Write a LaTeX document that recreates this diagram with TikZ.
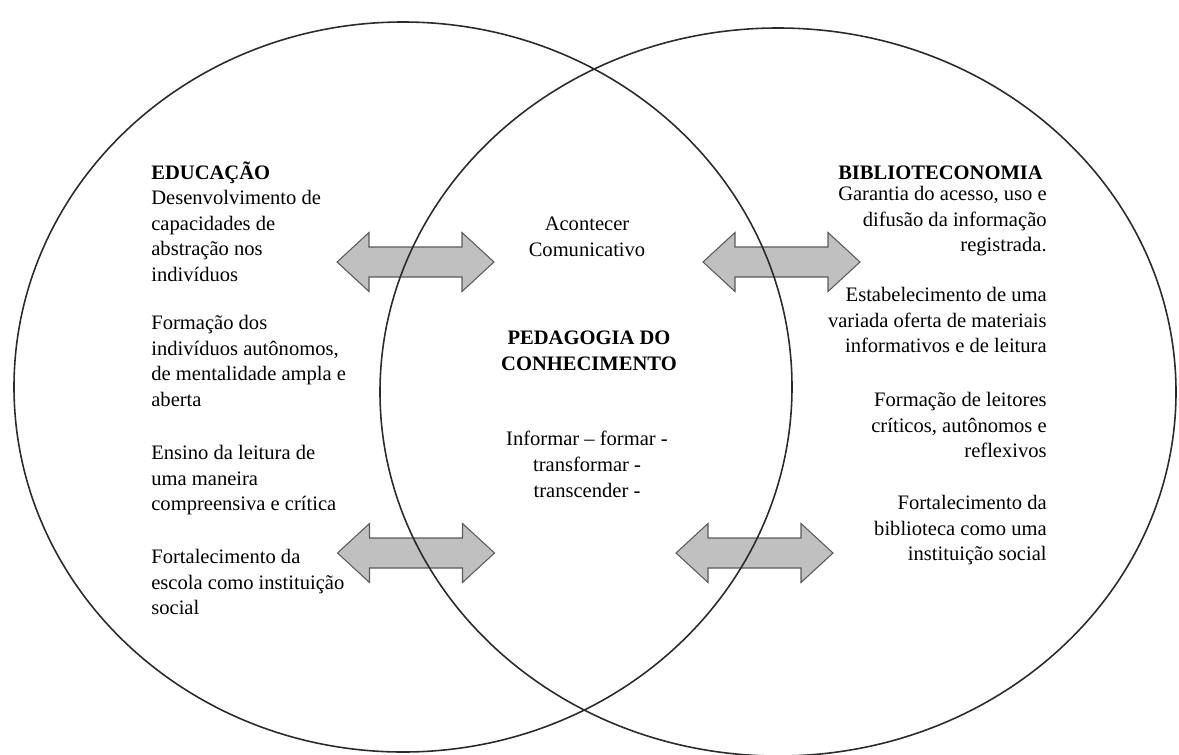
\documentclass[tikz,border=0pt]{standalone}
\usepackage{fontspec}
\setmainfont{Liberation Serif}
\usepackage{xcolor}
\usepackage{tikz}
\usetikzlibrary{positioning,shapes.geometric}
\definecolor{figLine}{HTML}{2B2B2B}
\definecolor{figFill}{HTML}{C0C0C0}
\definecolor{figEdge}{HTML}{5A5A5A}

\tikzset{
  pics/xarrow/.style={code={
    \draw[draw=figEdge, fill=figFill, line width=0.6pt]
      (-78.5,0) -- (-46.5,-29.5) -- (-46.5,-15) -- (46.5,-15) -- (46.5,-29.5)
      -- (78.5,0) -- (46.5,29.5) -- (46.5,15) -- (-46.5,15) -- (-46.5,29.5) -- cycle;
  }},
}

\begin{document}
\begin{tikzpicture}[
  x=0.2mm, y=-0.2mm,
  field/.style={
    draw=figLine, line width=0.9pt, ellipse, inner sep=0pt,
  },
  txt/.style={font=\fontsize{11.7}{14.6}\selectfont, inner sep=0pt,
    align=#1, execute at begin node=\strut},
  txt/.default=left,
  head/.style={font=\fontsize{11.7}{14.6}\selectfont\bfseries, inner sep=0pt},
]
\useasboundingbox (0,0) rectangle (1179,754);

% Exchange arrows (under the field outlines)
\pic (arrTL) at (415.5,262) {xarrow};
\pic (arrTR) at (781.5,262) {xarrow};
\pic (arrBL) at (416,553) {xarrow};
\pic (arrBR) at (754.5,553) {xarrow};

% Two overlapping fields
\node[field, minimum width=155.6mm, minimum height=146mm] (educ) at (403,387) {};
\node[field, minimum width=159.2mm, minimum height=145.6mm] (biblio) at (778,392) {};

% Left field: Educacao
\node[txt, anchor=north west] (edu1) at (151,161)
  {\textbf{EDUCAÇÃO}\\Desenvolvimento de\\capacidades de\\abstração nos\\indivíduos};
\node[txt, anchor=north west] (edu2) at (151,315)
  {Formação dos\\indivíduos autônomos,\\de mentalidade ampla e\\aberta};
\node[txt, anchor=north west] (edu3) at (151,445)
  {Ensino da leitura de\\uma maneira\\compreensiva e crítica};
\node[txt, anchor=north west] (edu4) at (151,549)
  {Fortalecimento da\\escola como instituição\\social};

% Right field: Biblioteconomia
\node[txt=right, anchor=north east] (bib1) at (1047,186)
  {Garantia do acesso, uso e\\difusão da informação\\registrada.};
\node[head, anchor=base west] (bibhead) at (bib1.west |- 0,179) {BIBLIOTECONOMIA};
\node[txt=right, anchor=north east] (bib2) at (1047,287)
  {Estabelecimento de uma\\variada oferta de materiais\\informativos e de leitura};
\node[txt=right, anchor=north east] (bib3) at (1047,392)
  {Formação de leitores\\críticos, autônomos e\\reflexivos};
\node[txt=right, anchor=north east] (bib4) at (1047,495)
  {Fortalecimento da\\biblioteca como uma\\instituição social};

% Intersection
\node[txt=center, anchor=north] (acont) at (587,217)
  {Acontecer\\Comunicativo};
\node[txt=center, anchor=north, font=\fontsize{11.7}{14.6}\selectfont\bfseries] (ped) at (589,331)
  {PEDAGOGIA DO\\CONHECIMENTO};
\node[txt=center, anchor=north] (inf) at (587,431)
  {Informar – formar -\\transformar -\\transcender -};

\end{tikzpicture}
\end{document}
